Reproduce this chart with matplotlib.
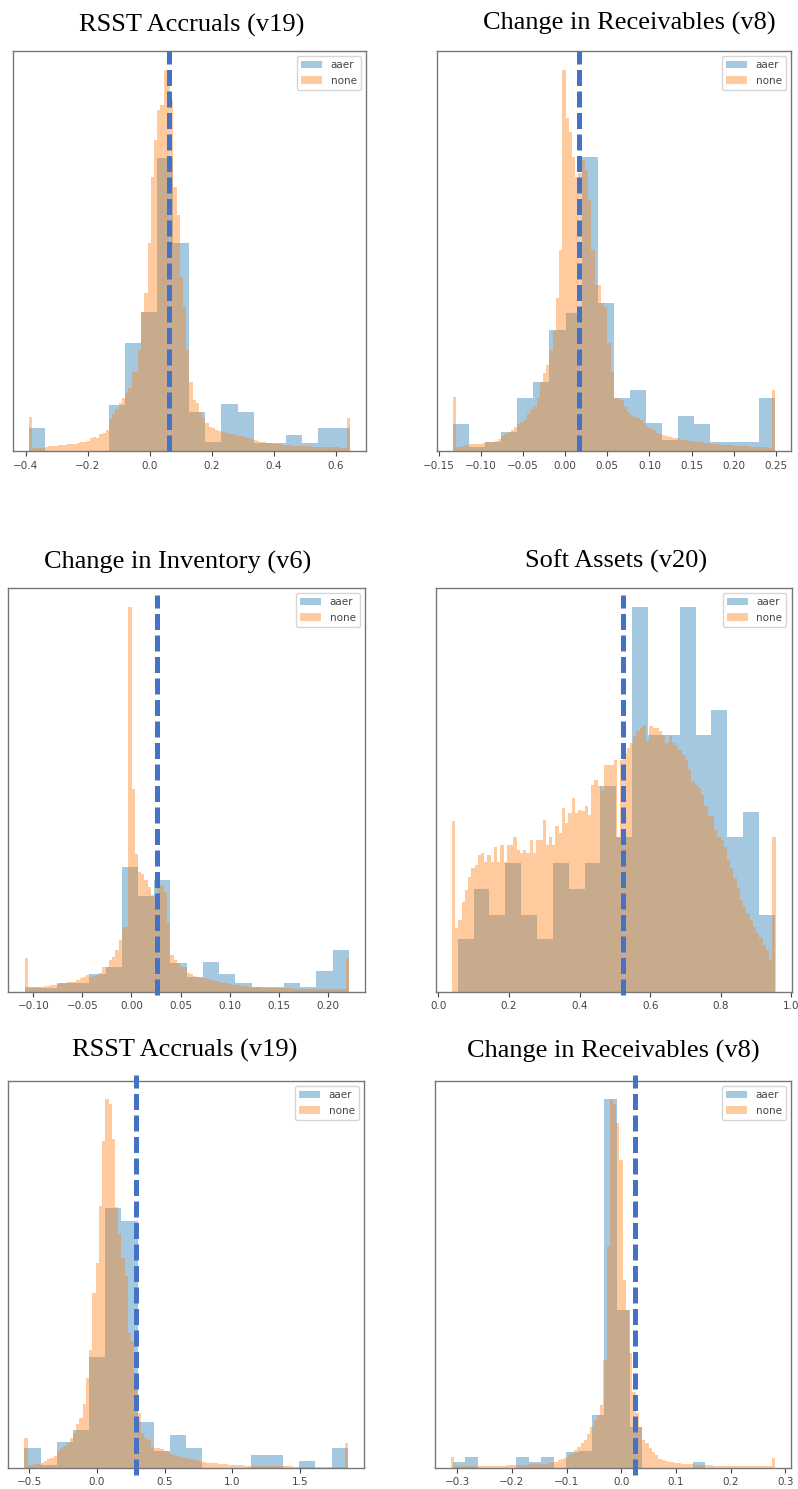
import numpy as np
import matplotlib
matplotlib.use('Agg')
import matplotlib.pyplot as plt

titles = ['RSST Accruals (v19)', 'Change in Receivables (v8)',
          'Change in Inventory (v6)', 'Soft Assets (v20)',
          'RSST Accruals (v19)', 'Change in Receivables (v8)']

# min / max of each sample (histogram range)
none_range = [(-0.39, 0.645), (-0.1335, 0.249), (-0.109, 0.2215),
              (0.0383, 0.955), (-0.534, 1.852), (-0.311, 0.281)]
aaer_range = [(-0.39, 0.645), (-0.1335, 0.249), (-0.109, 0.2215),
              (0.0547, 0.953), (-0.534, 1.852), (-0.308, 0.154)]

# cutoff drawn as dashed line
cutoffs = [0.063, 0.0163, 0.0256, 0.5236, 0.2906, 0.0245]

xticks = [[-0.4, -0.2, 0.0, 0.2, 0.4, 0.6],
          [-0.15, -0.10, -0.05, 0.00, 0.05, 0.10, 0.15, 0.20, 0.25],
          [-0.10, -0.05, 0.00, 0.05, 0.10, 0.15, 0.20],
          [0.0, 0.2, 0.4, 0.6, 0.8, 1.0],
          [-0.5, 0.0, 0.5, 1.0, 1.5],
          [-0.3, -0.2, -0.1, 0.0, 0.1, 0.2, 0.3]]

# bin heights, aaer firms (20 bins)
aaer_v19 = [70, 0, 0, 0, 0, 138, 323, 418, 878, 625, 118, 28, 141, 116, 25, 25, 48, 25, 70, 70]
aaer_v8 = [81, 13, 26, 56, 158, 208, 363, 413, 883, 443, 158, 183, 83, 33, 106, 81, 26, 26, 26, 158]
aaer_v6 = [15, 10, 25, 25, 53, 75, 375, 287, 337, 85, 45, 88, 53, 25, 15, 15, 25, 15, 62, 125]
aaer_v20 = [158, 309, 231, 385, 231, 158, 385, 309, 385, 615, 465, 1152, 770, 770, 1152, 770, 845, 465, 537, 231]
aaer_v19b = [58, 8, 76, 113, 331, 778, 738, 138, 50, 97, 58, 0, 0, 0, 38, 38, 0, 21, 0, 58]
aaer_v8b = [16, 33, 0, 0, 0, 33, 16, 33, 0, 48, 50, 158, 1103, 473, 123, 0, 0, 0, 0, 16]

# bin heights, non-aaer firms (100 bins)
none_v19 = [101, 8, 8, 9, 10, 13, 14, 15, 16, 17,
            18, 19, 20, 21, 22, 24, 26, 28, 30, 38,
            42, 40, 50, 55, 63, 95, 110, 125, 145, 160,
            175, 188, 238, 238, 303, 418, 473, 623, 823, 933,
            1023, 1038, 1143, 1133, 1053, 793, 708, 523, 433, 303,
            208, 153, 143, 118, 98, 83, 73, 68, 63, 60,
            58, 55, 52, 50, 48, 46, 44, 42, 38, 35,
            32, 30, 28, 26, 24, 23, 22, 21, 20, 19,
            18, 17, 16, 16, 15, 15, 14, 14, 13, 13,
            13, 12, 12, 12, 11, 11, 11, 10, 10, 98]
none_v8 = [163, 13, 13, 14, 18, 20, 22, 20, 22, 24,
           26, 28, 28, 30, 35, 45, 50, 58, 62, 72,
           80, 88, 95, 110, 122, 135, 160, 208, 233, 258,
           303, 360, 458, 603, 1143, 998, 958, 883, 823, 833,
           873, 843, 753, 603, 498, 498, 443, 433, 323, 238,
           158, 158, 153, 133, 118, 108, 103, 98, 93, 83,
           73, 68, 63, 55, 52, 48, 45, 42, 40, 38,
           36, 34, 32, 30, 30, 28, 27, 26, 24, 23,
           22, 21, 20, 19, 18, 18, 17, 16, 15, 15,
           14, 14, 13, 13, 12, 12, 11, 11, 10, 183]
none_v6 = [100, 10, 10, 11, 12, 15, 16, 18, 20, 20,
           23, 25, 26, 28, 30, 30, 35, 40, 45, 50,
           45, 48, 50, 55, 75, 75, 95, 105, 125, 155,
           195, 195, 1155, 610, 415, 360, 355, 335, 315, 290,
           285, 320, 320, 300, 205, 110, 95, 85, 75, 75,
           55, 52, 48, 45, 42, 40, 38, 35, 33, 31,
           30, 27, 25, 23, 21, 19, 18, 17, 16, 15,
           14, 13, 13, 12, 12, 12, 11, 11, 11, 10,
           10, 10, 10, 9, 9, 9, 9, 9, 8, 8,
           8, 8, 8, 8, 7, 7, 7, 7, 7, 100]
none_v20 = [512, 190, 215, 270, 305, 345, 370, 380, 410, 415,
            390, 410, 390, 435, 390, 440, 390, 440, 440, 465,
            425, 415, 425, 415, 455, 415, 455, 455, 515, 440,
            465, 440, 495, 475, 550, 505, 535, 580, 535, 545,
            540, 555, 530, 620, 635, 615, 600, 680, 680, 680,
            695, 465, 695, 715, 730, 745, 765, 780, 790, 800,
            750, 795, 790, 790, 780, 770, 745, 765, 745, 735,
            725, 710, 695, 665, 630, 620, 610, 590, 555, 525,
            525, 485, 465, 455, 435, 395, 370, 340, 310, 275,
            255, 235, 215, 195, 175, 160, 140, 125, 95, 465]
none_v19b = [90, 8, 9, 10, 11, 13, 20, 25, 30, 35,
             50, 58, 65, 75, 90, 105, 130, 150, 190, 270,
             353, 523, 613, 783, 978, 1103, 1088, 983, 780, 700,
             628, 573, 403, 380, 250, 163, 103, 88, 83, 63,
             58, 58, 55, 51, 48, 42, 38, 35, 33, 30,
             28, 26, 24, 22, 18, 16, 15, 14, 14, 13,
             12, 11, 10, 9, 8, 8, 7, 7, 6, 6,
             6, 5, 5, 5, 5, 5, 4, 4, 4, 4,
             4, 4, 4, 3, 3, 3, 3, 3, 3, 3,
             3, 3, 3, 3, 3, 3, 3, 3, 3, 73]
none_v8b = [33, 6, 6, 6, 6, 6, 6, 5, 5, 5,
            5, 6, 6, 6, 6, 6, 6, 7, 7, 7,
            8, 8, 9, 9, 10, 10, 11, 11, 12, 12,
            14, 16, 18, 22, 26, 30, 38, 45, 53, 63,
            73, 83, 100, 123, 143, 158, 188, 323, 663, 1100,
            1090, 1033, 923, 563, 473, 343, 228, 163, 123, 83,
            73, 58, 48, 38, 26, 23, 20, 18, 16, 14,
            13, 12, 11, 10, 10, 9, 9, 8, 8, 7,
            7, 6, 6, 6, 6, 5, 5, 5, 5, 5,
            5, 5, 5, 5, 5, 5, 5, 5, 5, 28]

aaer_all = [aaer_v19, aaer_v8, aaer_v6, aaer_v20, aaer_v19b, aaer_v8b]
none_all = [none_v19, none_v8, none_v6, none_v20, none_v19b, none_v8b]

W, H = 798, 1489
# axes boxes in pixels: left, top, right, bottom
boxes = [(12.7, 51, 366, 451), (436.7, 51, 791, 451),
         (8.3, 588, 365, 991.7), (435.7, 588, 791.7, 991.7),
         (8.3, 1081, 364, 1467.7), (435, 1081, 791, 1467.7)]
title_pos = [(192, 32), (629, 30), (178, 569), (616, 568), (185, 1057), (613, 1058)]
line_span = [(0, 1), (0, 1), (-0.008, 0.983), (-0.008, 0.983), (-0.019, 1.016), (-0.019, 1.016)]

fig = plt.figure(figsize=(W / 100, H / 100), dpi=100)

for k in range(6):
    l, t, r, b = boxes[k]
    ax = fig.add_axes([l / W, 1 - b / H, (r - l) / W, (b - t) / H])

    lo, hi = aaer_range[k]
    edges = np.linspace(lo, hi, len(aaer_all[k]) + 1)
    mids = (edges[:-1] + edges[1:]) / 2
    ax.hist(mids, bins=edges, weights=aaer_all[k], histtype='stepfilled',
            color='#1f77b4', alpha=0.4, label='aaer')

    lo, hi = none_range[k]
    edges = np.linspace(lo, hi, len(none_all[k]) + 1)
    mids = (edges[:-1] + edges[1:]) / 2
    ax.hist(mids, bins=edges, weights=none_all[k], histtype='stepfilled',
            color='#ff7f0e', alpha=0.4, label='none')

    ax.set_yticks([])
    ax.set_xticks(xticks[k])
    ax.tick_params(axis='x', labelsize=7.5, colors='#444', length=3.5, width=0.8)
    for s in ax.spines.values():
        s.set_color('#777')
        s.set_linewidth(1.0)

    ax.legend(loc='upper right', fontsize=7.5, labelcolor='#444')

    y0, y1 = line_span[k]
    ax.plot([cutoffs[k], cutoffs[k]], [y0, y1], transform=ax.get_xaxis_transform(),
            color='#4472C4', lw=3.6, dashes=(3.2, 1.1), clip_on=False, zorder=5)

    tx, ty = title_pos[k]
    fig.text(tx / W, 1 - ty / H, titles[k], ha='center', va='baseline',
             fontsize=19, family='Liberation Serif', color='black')

fig.savefig('out.png', dpi=100)
